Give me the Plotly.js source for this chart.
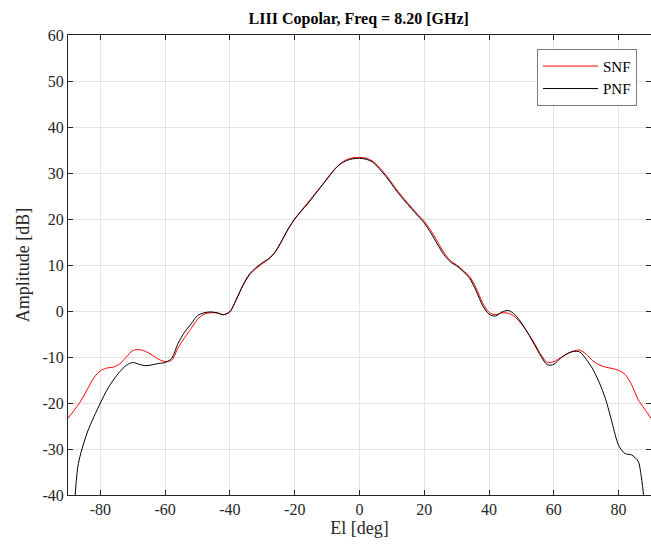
<!DOCTYPE html>
<html><head><meta charset="utf-8">
<script src="https://cdn.plot.ly/plotly-3.0.1.min.js"></script>
<style>html,body{margin:0;padding:0;background:#fff}#c{width:651px;height:547px}</style>
</head><body><div id="c"></div>
<script>
const elSNF = [-90,-88,-86,-84,-82,-80,-78,-76,-74,-72,-70,-68,-66,-64,-62,-60,-58,-56,-54,-52,-50,-48,-46,-44,-42,-40,-38,-36,-34,-32,-30,-28,-26,-24,-22,-20,-18,-16,-14,-12,-10,-8,-6,-4,-2,0,2,4,6,8,10,12,14,16,18,20,22,24,26,28,30,32,34,36,38,40,42,44,46,48,50,52,54,56,58,60,62,64,66,68,70,72,74,76,78,80,82,84,86,88,90];
const snf = [-23.3,-21.5,-19.5,-17.0,-14.5,-13.0,-12.4,-12.2,-11.5,-10.0,-8.6,-8.4,-8.8,-9.6,-10.5,-11.0,-10.7,-8.0,-5.8,-3.8,-1.8,-0.7,-0.4,-0.4,-0.8,-0.2,2.5,5.5,7.8,9.2,10.3,11.3,12.8,15.2,17.8,20.0,21.8,23.5,25.3,27.0,28.8,30.6,32.0,32.9,33.3,33.4,33.2,32.6,31.3,29.7,27.8,25.9,24.2,22.6,21.0,19.5,17.5,15.2,12.8,11.0,10.0,8.8,7.5,5.0,1.8,-0.3,-0.8,-0.4,-0.5,-1.3,-2.8,-4.8,-7.0,-9.5,-11.2,-11.0,-10.2,-9.4,-8.7,-8.5,-9.4,-10.8,-11.7,-12.2,-12.5,-12.9,-13.8,-16.0,-19.2,-21.3,-23.3];
const elPNF = [-88,-87,-86,-84,-82,-80,-78,-76,-74,-72,-70,-68,-66,-64,-62,-60,-58,-56,-54,-52,-50,-48,-46,-44,-42,-40,-38,-36,-34,-32,-30,-28,-26,-24,-22,-20,-18,-16,-14,-12,-10,-8,-6,-4,-2,0,2,4,6,8,10,12,14,16,18,20,22,24,26,28,30,32,34,36,38,40,42,44,46,48,50,52,54,56,58,60,62,64,66,68,70,72,74,76,78,80,82,84,86,87,88];
const pnf = [-42,-34,-30.8,-26.3,-23.0,-20.0,-17.2,-15.0,-13.2,-11.8,-11.2,-11.6,-11.9,-11.7,-11.4,-11.2,-10.3,-7.0,-4.6,-2.8,-1.0,-0.4,-0.2,-0.4,-0.8,-0.1,2.6,5.6,8.0,9.4,10.5,11.4,12.9,15.3,17.9,20.0,21.7,23.3,25.1,26.9,28.7,30.5,31.9,32.7,33.1,33.2,33.0,32.4,31.0,29.4,27.5,25.6,23.9,22.3,20.7,19.1,17.0,14.6,12.3,10.7,9.8,8.6,7.1,4.4,1.2,-0.7,-1.1,-0.2,0.1,-0.8,-2.6,-4.8,-7.3,-9.8,-11.7,-11.6,-10.3,-9.3,-8.8,-8.9,-10.5,-12.6,-15.5,-19.2,-24.3,-29.2,-31.0,-31.3,-32.6,-36,-42];
const xTicks = [-80,-60,-40,-20,0,20,40,60,80];
const yTicks = [-40,-30,-20,-10,0,10,20,30,40,50,60];

const FONT = 'Liberation Serif, Times New Roman, serif';
const axisCommon = {
  showgrid:true, gridcolor:'#e3e3e3', gridwidth:1,
  showline:true, linecolor:'#262626', linewidth:1, mirror:'ticks',
  ticks:'inside', ticklen:5, tickcolor:'#262626', zeroline:false,
  tickfont:{family:FONT, size:16, color:'#262626'}
};
const data = [
  {x:elSNF, y:snf, name:'SNF', mode:'lines', line:{color:'#ff0000', width:1, shape:'spline', smoothing:0.8}},
  {x:elPNF, y:pnf, name:'PNF', mode:'lines', line:{color:'#000000', width:1, shape:'spline', smoothing:0.8}}
];
const layout = {
  width:651, height:547,
  margin:{l:68, r:0, t:35, b:52},
  paper_bgcolor:'#fff', plot_bgcolor:'#fff',
  font:{family:FONT, color:'#262626'},
  title:{text:'<b>LIII Copolar, Freq = 8.20 [GHz]</b>', x:0.551, xanchor:'center', y:0.967, yanchor:'middle', font:{size:16, color:'#000'}},
  xaxis:Object.assign({}, axisCommon, {range:[-90,90], tickvals:xTicks, ticktext:xTicks.map(String),
    title:{text:'El [deg]', font:{size:18, color:'#262626'}, standoff:2}}),
  yaxis:Object.assign({}, axisCommon, {range:[-40,60], tickvals:yTicks, ticktext:yTicks.map(String),
    title:{text:'Amplitude [dB]', font:{size:18, color:'#262626'}, standoff:8}}),
  showlegend:true,
  legend:{x:0.976, y:0.97, xanchor:'right', yanchor:'top', bgcolor:'#fff', bordercolor:'#7a7a7a', borderwidth:1,
    itemwidth:55, font:{family:FONT, size:15, color:'#000'}, tracegroupgap:0}
};
Plotly.newPlot('c', data, layout, {displayModeBar:false, staticPlot:true});
</script></body></html>
